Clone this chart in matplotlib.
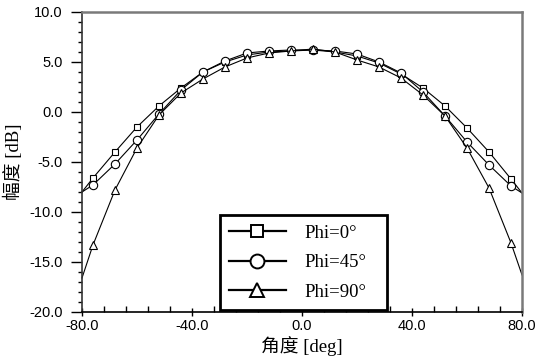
import matplotlib.pyplot as plt
from matplotlib.lines import Line2D
from matplotlib.ticker import MultipleLocator
import numpy as np

# Data
angles = [-80, -76, -68, -60, -52, -44, -36, -28, -20, -12, -4,
          4, 12, 20, 28, 36, 44, 52, 60, 68, 76, 80]
phi0 = [-8.0, -6.6, -4.0, -1.5, 0.6, 2.4, 4.0, 5.0, 5.7, 6.0, 6.1,
        6.2, 6.0, 5.6, 4.9, 3.8, 2.4, 0.6, -1.6, -4.0, -6.7, -8.1]
phi45 = [-8.0, -7.3, -5.2, -2.8, -0.2, 2.2, 4.0, 5.1, 5.9, 6.1, 6.2,
         6.2, 6.1, 5.8, 5.0, 3.9, 2.0, -0.4, -3.0, -5.3, -7.4, -8.1]
phi90 = [-16.6, -13.3, -7.8, -3.6, -0.3, 1.9, 3.3, 4.5, 5.4, 5.9, 6.1,
         6.3, 6.0, 5.2, 4.5, 3.4, 1.7, -0.4, -3.6, -7.6, -13.1, -16.3]
labels = ["Phi=0°", "Phi=45°", "Phi=90°"]
markers = ["s", "o", "^"]
msizes = [4, 6, 5.5]

serif_cjk = ["Liberation Serif", "Noto Sans CJK SC"]

fig = plt.figure(figsize=(5.51, 3.63), dpi=100)
ax = fig.add_axes([0.1488, 0.1405, 0.7986, 0.8265])

for y, m, ms in zip([phi0, phi45, phi90], markers, msizes):
    ax.plot(angles, y, color="black", lw=0.8, marker=m, ms=ms,
            mfc="white", mec="black", mew=0.8, markevery=slice(1, -1),
            clip_on=False)

ax.set_xlim(-80, 80)
ax.set_ylim(-20, 10)
ax.xaxis.set_major_locator(MultipleLocator(40))
ax.xaxis.set_minor_locator(MultipleLocator(8))
ax.yaxis.set_major_locator(MultipleLocator(5))
ax.yaxis.set_minor_locator(MultipleLocator(1))
ax.xaxis.set_major_formatter(lambda v, p: f"{v:.1f}")
ax.yaxis.set_major_formatter(lambda v, p: f"{v:.1f}")

ax.tick_params(axis="y", which="major", direction="out", length=8, width=1, pad=6)
ax.tick_params(axis="y", which="minor", direction="out", length=3, width=1)
ax.tick_params(axis="x", which="major", direction="inout", length=6, width=1, pad=2)
ax.tick_params(axis="x", which="minor", direction="in", length=4, width=1)
for lab in ax.get_xticklabels() + ax.get_yticklabels():
    lab.set_family("Liberation Sans")
    lab.set_fontsize(10.5)

for side in ["top", "right"]:
    ax.spines[side].set_color("#7a7a7a")
    ax.spines[side].set_linewidth(1.8)
ax.spines["left"].set_color("#333333")
ax.spines["bottom"].set_color("black")
ax.spines["left"].set_linewidth(1.2)
ax.spines["bottom"].set_linewidth(1.2)

ax.set_xlabel("角度 [deg]", family=serif_cjk, fontsize=13.5, labelpad=2)
ax.set_ylabel("幅度 [dB]", family=serif_cjk, fontsize=13.5, labelpad=4)

handles = [Line2D([], [], color="black", lw=1.6, marker=m, ms=s, mfc="white",
                  mec="black", mew=1.4)
           for m, s in zip(markers, [9, 10, 10])]
leg = ax.legend(handles, labels, loc="lower left",
                bbox_to_anchor=(0.3136, 0.0067, 0.3795, 0.3133), mode="expand",
                borderaxespad=0, fancybox=False, framealpha=1, edgecolor="black",
                prop={"family": "Liberation Serif", "size": 13.5},
                handlelength=3.0, handletextpad=1.0, labelspacing=0.65,
                borderpad=0.5)
leg.get_frame().set_linewidth(2)

fig.savefig("out.png", dpi=100)
